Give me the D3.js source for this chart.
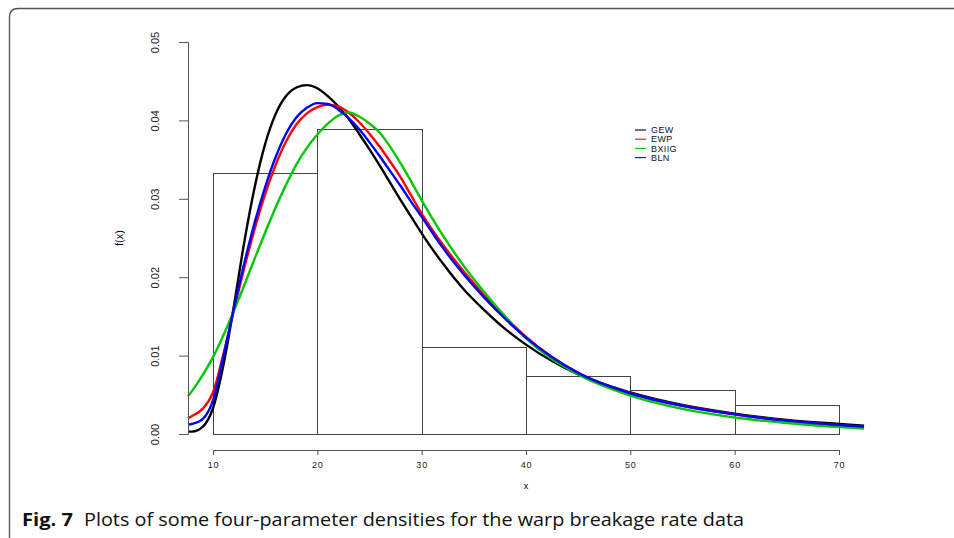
<!DOCTYPE html>
<html>
<head>
<meta charset="utf-8">
<script src="https://cdn.jsdelivr.net/npm/d3@7.9.0/dist/d3.min.js"></script>
<style>
  body { margin: 0; background: #fff; }
  svg { display: block; }
</style>
</head>
<body>
<svg id="chart" width="954" height="538"></svg>
<script>
// histogram of warp breakage data (density scale)
const binEdges = [10, 20, 30, 40, 50, 60, 70];
const binDensity = [0.0333, 0.0389, 0.0111, 0.0074, 0.0056, 0.0037];

// fitted densities
const xs    = [7.6, 8, 9, 10, 11, 12, 13, 14, 15, 16, 17, 18, 19, 20, 21, 22, 23, 24, 25, 26, 27, 28, 29, 30, 32, 34, 36, 38, 40, 45, 50, 55, 60, 65, 70, 72.4];
const gew   = [0.0003, 0.0003, 0.0009, 0.0033, 0.0088, 0.0163, 0.0245, 0.0315, 0.0370, 0.0408, 0.0431, 0.0442, 0.0445, 0.0441, 0.0431, 0.0418, 0.0402, 0.0383, 0.0363, 0.0342, 0.0320, 0.0298, 0.0277, 0.0256, 0.0218, 0.0185, 0.0158, 0.0134, 0.0114, 0.0076, 0.0053, 0.0037, 0.0026, 0.0018, 0.00128, 0.00105];
const ewp   = [0.0020, 0.0023, 0.0032, 0.0053, 0.0102, 0.0158, 0.0212, 0.0262, 0.0306, 0.0343, 0.0373, 0.0395, 0.0409, 0.0417, 0.0420, 0.0418, 0.0410, 0.0398, 0.0383, 0.0366, 0.0347, 0.0327, 0.0304, 0.0281, 0.0242, 0.0208, 0.0177, 0.0149, 0.0124, 0.0078, 0.0052, 0.0036, 0.0025, 0.0017, 0.00112, 0.0009];
const bxiig = [0.0048, 0.0055, 0.0075, 0.0098, 0.0126, 0.0157, 0.0190, 0.0224, 0.0257, 0.0289, 0.0318, 0.0344, 0.0365, 0.0382, 0.0396, 0.0406, 0.0410, 0.0405, 0.0396, 0.0384, 0.0366, 0.0345, 0.0322, 0.0298, 0.0254, 0.0215, 0.0181, 0.0150, 0.0122, 0.0076, 0.0049, 0.0032, 0.0021, 0.0014, 0.00088, 0.0007];
const bln   = [0.0012, 0.0013, 0.0019, 0.0043, 0.0099, 0.0160, 0.0218, 0.0270, 0.0315, 0.0353, 0.0383, 0.0404, 0.0416, 0.0422, 0.0421, 0.0414, 0.0403, 0.0389, 0.0372, 0.0354, 0.0335, 0.0316, 0.0296, 0.0277, 0.0238, 0.0204, 0.0174, 0.0147, 0.0123, 0.0078, 0.0052, 0.0036, 0.0025, 0.0017, 0.00115, 0.00095];

const seriesNames = ['GEW', 'EWP', 'BXIIG', 'BLN'];
const seriesValues = [gew, ewp, bxiig, bln];
const seriesColors = ['#000000', '#ff0000', '#00c800', '#0000ff'];

const xTicks = [10, 20, 30, 40, 50, 60, 70];
const yTicks = [0, 0.01, 0.02, 0.03, 0.04, 0.05];

const svg = d3.select('#chart');

// figure frame with rounded top-left corner
svg.append('path')
  .attr('d', 'M9.5,538 V17 Q9.5,8.5 18,8.5 H954')
  .attr('fill', 'none')
  .attr('stroke', '#555')
  .attr('stroke-width', 1.4);

const x = d3.scaleLinear().domain([10, 70]).range([213, 839]);
const y = d3.scaleLinear().domain([0, 0.05]).range([434, 42]);

// histogram
const bins = binDensity.map((d, i) => ({ x0: binEdges[i], x1: binEdges[i + 1], d: d }));
svg.append('g')
  .selectAll('rect')
  .data(bins)
  .join('rect')
  .attr('x', b => Math.round(x(b.x0)) + 0.5)
  .attr('y', b => Math.round(y(b.d)) + 0.5)
  .attr('width', b => Math.round(x(b.x1)) - Math.round(x(b.x0)))
  .attr('height', b => Math.round(y(0)) - Math.round(y(b.d)))
  .attr('fill', 'none')
  .attr('stroke', '#444')
  .attr('stroke-width', 1);

// density curves
const line = d3.line()
  .x(d => x(d[0]))
  .y(d => y(d[1]))
  .curve(d3.curveMonotoneX);

seriesValues.forEach((vals, i) => {
  svg.append('path')
    .attr('d', line(xs.map((v, j) => [v, vals[j]])))
    .attr('fill', 'none')
    .attr('stroke', seriesColors[i])
    .attr('stroke-width', 2.4);
});

// y axis
const yAxis = svg.append('g')
  .attr('transform', 'translate(188,0)')
  .call(d3.axisLeft(y).tickValues(yTicks).tickSize(9).tickFormat(d3.format('.2f')));
yAxis.select('.domain').attr('stroke', '#555');
yAxis.selectAll('.tick line').attr('stroke', '#555');
yAxis.selectAll('.tick text')
  .attr('x', 0).attr('dy', 0)
  .attr('transform', 'translate(-33,0) rotate(-90)')
  .attr('text-anchor', 'middle')
  .attr('dominant-baseline', 'central')
  .style('font-family', '"Liberation Sans Narrow", "Liberation Sans", sans-serif')
  .style('font-size', '11px')
  .attr('fill', '#222');

// x axis
const xAxis = svg.append('g')
  .attr('transform', 'translate(0,450)')
  .call(d3.axisBottom(x).tickValues(xTicks).tickSize(5).tickPadding(7));
xAxis.select('.domain').attr('stroke', '#555');
xAxis.selectAll('.tick line').attr('stroke', '#555');
xAxis.selectAll('.tick text')
  .style('font-family', '"Liberation Sans", Arial, sans-serif')
  .style('font-size', '9px')
  .style('letter-spacing', '0.8px')
  .attr('fill', '#222');

// axis titles
svg.append('text')
  .attr('x', 526).attr('y', 489)
  .attr('text-anchor', 'middle')
  .style('font-family', '"Liberation Sans", Arial, sans-serif')
  .style('font-size', '9px')
  .text('x');

svg.append('text')
  .attr('transform', 'translate(123,238) rotate(-90)')
  .attr('text-anchor', 'middle')
  .style('font-family', '"Liberation Sans Narrow", "Liberation Sans", sans-serif')
  .style('font-size', '11px')
  .text('f(x)');

// legend
const legend = svg.append('g').attr('transform', 'translate(635,130)');
seriesNames.forEach((name, i) => {
  const row = legend.append('g').attr('transform', `translate(0,${i * 9.2})`);
  row.append('line')
    .attr('x1', 0).attr('x2', 11)
    .attr('stroke', seriesColors[i])
    .attr('stroke-width', 1.1);
  row.append('text')
    .attr('x', 16).attr('y', 3.2)
    .style('font-family', '"Liberation Sans", Arial, sans-serif')
    .style('font-size', '9px')
    .style('letter-spacing', '0.4px')
    .attr('fill', '#111')
    .text(name);
});

// caption
const cap = svg.append('g')
  .style('font-family', '"Open Sans", "Noto Sans", sans-serif')
  .style('font-size', '18px')
  .attr('fill', '#111');
cap.append('text')
  .attr('x', 22).attr('y', 526)
  .style('font-weight', 'bold')
  .attr('textLength', 51).attr('lengthAdjust', 'spacingAndGlyphs')
  .text('Fig. 7');
cap.append('text')
  .attr('x', 84).attr('y', 526)
  .attr('textLength', 660).attr('lengthAdjust', 'spacingAndGlyphs')
  .text('Plots of some four-parameter densities for the warp breakage rate data');
</script>
</body>
</html>
